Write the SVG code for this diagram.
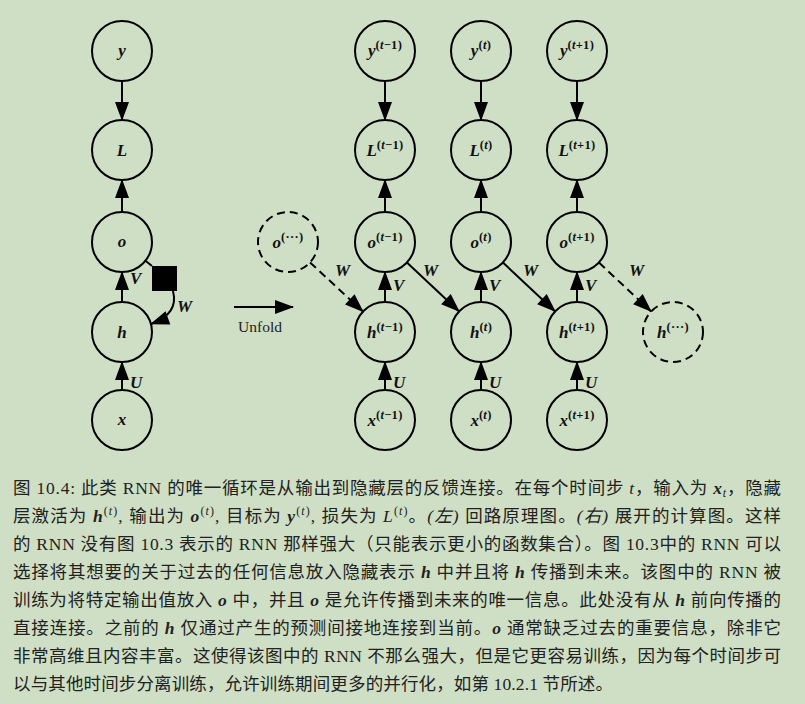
<svg xmlns="http://www.w3.org/2000/svg" width="805" height="704" viewBox="0 0 805 704">
<defs>
<marker id="ah" markerWidth="19" markerHeight="14" refX="18" refY="7" orient="auto" markerUnits="userSpaceOnUse" viewBox="0 0 19 14" overflow="visible"><path d="M0,0 L19,7 L0,14 z" fill="#000"/></marker>
<style>
.n circle{fill:none;stroke:#000;stroke-width:2}
.d circle{stroke-dasharray:8 5}
.m{font-family:"Liberation Serif",serif;font-weight:bold;font-style:italic;font-size:17px;fill:#111;text-anchor:middle}
.s{font-size:12.5px;letter-spacing:0.3px}
.u{font-style:normal}
.e{font-family:"Liberation Serif",serif;font-weight:bold;font-style:italic;font-size:17px;fill:#111}
.c line,.c path{stroke:#000;stroke-width:2;fill:none;marker-end:url(#ah)}
.c .ds{stroke-dasharray:8 5}
.cap{font-family:"Liberation Serif","Noto Sans CJK SC",serif;font-size:17.5px;fill:#222}
.v{font-weight:bold;font-style:italic}
.i{font-style:italic}
</style>
</defs>
<rect width="805" height="704" fill="#CEDFC5"/>

<!-- connectors -->
<g class="c" id="connectors">
<line x1="122" y1="81" x2="122" y2="120"/>
<line x1="122" y1="212" x2="122" y2="180"/>
<line x1="122" y1="302" x2="122" y2="272"/>
<line x1="122" y1="390" x2="122" y2="362"/>
<line x1="145.4" y1="260.7" x2="152" y2="266" style="marker-end:none"/>
<path d="M173,291 Q179,314 151,324"/>
<line x1="234" y1="307" x2="293" y2="307"/>

<line x1="385" y1="81" x2="385" y2="120"/>
<line x1="385" y1="212" x2="385" y2="180"/>
<line x1="385" y1="302" x2="385" y2="272"/>
<line x1="385" y1="390" x2="385" y2="362"/>
<line x1="481" y1="81" x2="481" y2="120"/>
<line x1="481" y1="212" x2="481" y2="180"/>
<line x1="481" y1="302" x2="481" y2="272"/>
<line x1="481" y1="390" x2="481" y2="362"/>
<line x1="577" y1="81" x2="577" y2="120"/>
<line x1="577" y1="212" x2="577" y2="180"/>
<line x1="577" y1="302" x2="577" y2="272"/>
<line x1="577" y1="390" x2="577" y2="362"/>

<line class="ds" x1="310" y1="262.4" x2="363" y2="311.6"/>
<line x1="406.9" y1="262.6" x2="459.1" y2="311.4"/>
<line x1="502.9" y1="262.6" x2="555.1" y2="311.4"/>
<line class="ds" x1="598.9" y1="262.6" x2="651.1" y2="311.4"/>
</g>
<rect x="152" y="266" width="25" height="25" fill="#000"/>

<!-- edge labels -->
<g id="edge-labels">
<text class="e" x="130" y="284">V</text>
<text class="e" x="177" y="312">W</text>
<text class="e" x="130" y="388">U</text>
<text class="e" x="335" y="276">W</text>
<text class="e" x="423" y="276">W</text>
<text class="e" x="523" y="276">W</text>
<text class="e" x="629" y="276">W</text>
<text class="e" x="393" y="291">V</text>
<text class="e" x="489" y="291">V</text>
<text class="e" x="585" y="291">V</text>
<text class="e" x="393" y="388">U</text>
<text class="e" x="489" y="388">U</text>
<text class="e" x="585" y="388">U</text>
</g>
<text x="260" y="332" font-family="Liberation Serif, serif" font-size="15.5" fill="#222" text-anchor="middle">Unfold</text>

<!-- left folded nodes -->
<g class="n" id="node-y"><circle cx="122" cy="51" r="30"/><text class="m" x="122" y="56">y</text></g>
<g class="n" id="node-L"><circle cx="122" cy="150" r="30"/><text class="m" x="122" y="156">L</text></g>
<g class="n" id="node-o"><circle cx="122" cy="242" r="30"/><text class="m" x="122" y="247">o</text></g>
<g class="n" id="node-h"><circle cx="122" cy="332" r="30"/><text class="m" x="122" y="338">h</text></g>
<g class="n" id="node-x"><circle cx="122" cy="420" r="30"/><text class="m" x="122" y="425">x</text></g>

<!-- unfolded nodes -->
<g class="n d" id="node-o-dots"><circle cx="288" cy="242" r="30"/><text class="m" x="288" y="248">o<tspan class="s u" dy="-7">(···)</tspan></text></g>
<g class="n d" id="node-h-dots"><circle cx="673" cy="332" r="30"/><text class="m" x="673" y="338">h<tspan class="s u" dy="-7">(···)</tspan></text></g>

<g class="n" id="node-y-tm1"><circle cx="385" cy="51" r="30"/><text class="m" x="385" y="56">y<tspan class="s" dy="-7"><tspan class="u">(</tspan>t<tspan class="u">−1)</tspan></tspan></text></g>
<g class="n" id="node-y-t"><circle cx="481" cy="51" r="30"/><text class="m" x="481" y="56">y<tspan class="s" dy="-7"><tspan class="u">(</tspan>t<tspan class="u">)</tspan></tspan></text></g>
<g class="n" id="node-y-tp1"><circle cx="577" cy="51" r="30"/><text class="m" x="577" y="56">y<tspan class="s" dy="-7"><tspan class="u">(</tspan>t<tspan class="u">+1)</tspan></tspan></text></g>

<g class="n" id="node-L-tm1"><circle cx="385" cy="150" r="30"/><text class="m" x="385" y="156">L<tspan class="s" dy="-7"><tspan class="u">(</tspan>t<tspan class="u">−1)</tspan></tspan></text></g>
<g class="n" id="node-L-t"><circle cx="481" cy="150" r="30"/><text class="m" x="481" y="156">L<tspan class="s" dy="-7"><tspan class="u">(</tspan>t<tspan class="u">)</tspan></tspan></text></g>
<g class="n" id="node-L-tp1"><circle cx="577" cy="150" r="30"/><text class="m" x="577" y="156">L<tspan class="s" dy="-7"><tspan class="u">(</tspan>t<tspan class="u">+1)</tspan></tspan></text></g>

<g class="n" id="node-o-tm1"><circle cx="385" cy="242" r="30"/><text class="m" x="385" y="248">o<tspan class="s" dy="-7"><tspan class="u">(</tspan>t<tspan class="u">−1)</tspan></tspan></text></g>
<g class="n" id="node-o-t"><circle cx="481" cy="242" r="30"/><text class="m" x="481" y="248">o<tspan class="s" dy="-7"><tspan class="u">(</tspan>t<tspan class="u">)</tspan></tspan></text></g>
<g class="n" id="node-o-tp1"><circle cx="577" cy="242" r="30"/><text class="m" x="577" y="248">o<tspan class="s" dy="-7"><tspan class="u">(</tspan>t<tspan class="u">+1)</tspan></tspan></text></g>

<g class="n" id="node-h-tm1"><circle cx="385" cy="332" r="30"/><text class="m" x="385" y="338">h<tspan class="s" dy="-7"><tspan class="u">(</tspan>t<tspan class="u">−1)</tspan></tspan></text></g>
<g class="n" id="node-h-t"><circle cx="481" cy="332" r="30"/><text class="m" x="481" y="338">h<tspan class="s" dy="-7"><tspan class="u">(</tspan>t<tspan class="u">)</tspan></tspan></text></g>
<g class="n" id="node-h-tp1"><circle cx="577" cy="332" r="30"/><text class="m" x="577" y="338">h<tspan class="s" dy="-7"><tspan class="u">(</tspan>t<tspan class="u">+1)</tspan></tspan></text></g>

<g class="n" id="node-x-tm1"><circle cx="385" cy="420" r="30"/><text class="m" x="385" y="426">x<tspan class="s" dy="-7"><tspan class="u">(</tspan>t<tspan class="u">−1)</tspan></tspan></text></g>
<g class="n" id="node-x-t"><circle cx="481" cy="420" r="30"/><text class="m" x="481" y="426">x<tspan class="s" dy="-7"><tspan class="u">(</tspan>t<tspan class="u">)</tspan></tspan></text></g>
<g class="n" id="node-x-tp1"><circle cx="577" cy="420" r="30"/><text class="m" x="577" y="426">x<tspan class="s" dy="-7"><tspan class="u">(</tspan>t<tspan class="u">+1)</tspan></tspan></text></g>

<!-- caption -->
<g class="cap" id="caption">
<text x="13" y="494" textLength="768" lengthAdjust="spacing">图 10.4: 此类 RNN 的唯一循环是从输出到隐藏层的反馈连接。在每个时间步 <tspan class="i">t</tspan>，输入为 <tspan class="v">x</tspan><tspan class="i" font-size="12" dy="3">t</tspan><tspan dy="-3">，隐藏</tspan></text>
<text x="13" y="522" textLength="768" lengthAdjust="spacing">层激活为 <tspan class="v">h</tspan><tspan font-size="12" dy="-7">(<tspan class="i">t</tspan>)</tspan><tspan dy="7">, 输出为 </tspan><tspan class="v">o</tspan><tspan font-size="12" dy="-7">(<tspan class="i">t</tspan>)</tspan><tspan dy="7">, 目标为 </tspan><tspan class="v">y</tspan><tspan font-size="12" dy="-7">(<tspan class="i">t</tspan>)</tspan><tspan dy="7">, 损失为 </tspan><tspan class="i">L</tspan><tspan font-size="12" dy="-7">(<tspan class="i">t</tspan>)</tspan><tspan dy="7">。<tspan class="i">(左)</tspan> 回路原理图。<tspan class="i">(右)</tspan> 展开的计算图。这样</tspan></text>
<text x="13" y="550" textLength="768" lengthAdjust="spacing">的 RNN 没有图 10.3 表示的 RNN 那样强大（只能表示更小的函数集合）。图 10.3中的 RNN 可以</text>
<text x="13" y="578" textLength="768" lengthAdjust="spacing">选择将其想要的关于过去的任何信息放入隐藏表示 <tspan class="v">h</tspan> 中并且将 <tspan class="v">h</tspan> 传播到未来。该图中的 RNN 被</text>
<text x="13" y="606" textLength="768" lengthAdjust="spacing">训练为将特定输出值放入 <tspan class="v">o</tspan> 中，并且 <tspan class="v">o</tspan> 是允许传播到未来的唯一信息。此处没有从 <tspan class="v">h</tspan> 前向传播的</text>
<text x="13" y="634" textLength="768" lengthAdjust="spacing">直接连接。之前的 <tspan class="v">h</tspan> 仅通过产生的预测间接地连接到当前。<tspan class="v">o</tspan> 通常缺乏过去的重要信息，除非它</text>
<text x="13" y="662" textLength="768" lengthAdjust="spacing">非常高维且内容丰富。这使得该图中的 RNN 不那么强大，但是它更容易训练，因为每个时间步可</text>
<text x="13" y="690" textLength="600" lengthAdjust="spacing">以与其他时间步分离训练，允许训练期间更多的并行化，如第 10.2.1 节所述。</text>
</g>
</svg>
